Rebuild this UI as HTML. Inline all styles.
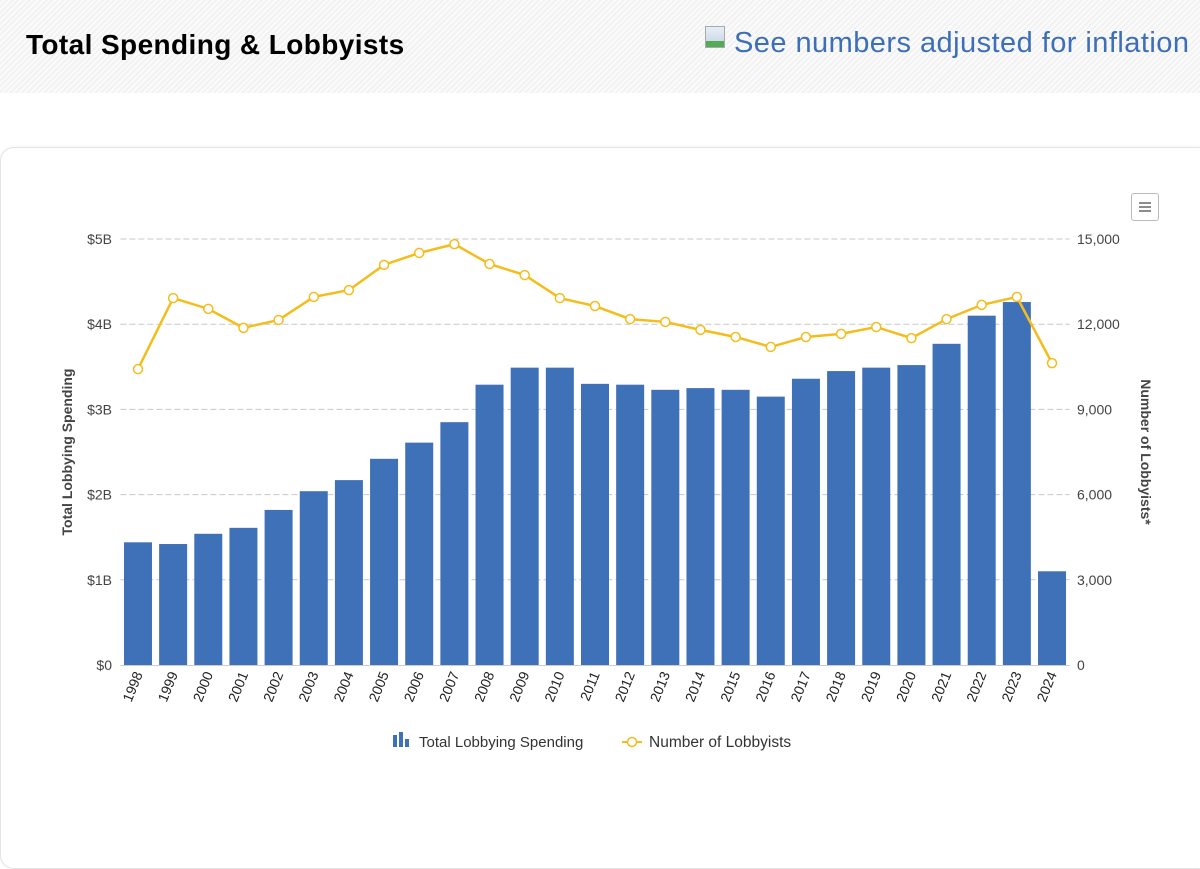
<!DOCTYPE html>
<html><head><meta charset="utf-8">
<style>
body{margin:0;width:1200px;height:854px;overflow:hidden;background:#fff;font-family:"Liberation Sans",sans-serif;position:relative}
#hdr{position:absolute;left:0;top:0;width:1200px;height:93px;background:repeating-linear-gradient(135deg,#f2f2f2 0 2px,#fbfbfb 2px 4px)}
#title{position:absolute;left:26px;top:29px;font-size:28px;font-weight:bold;color:#000;letter-spacing:0.4px}
#infl{position:absolute;left:734px;top:27px;font-size:29px;color:#3d6fb8;letter-spacing:0.45px}
#imgicon{position:absolute;left:705px;top:26px;width:18px;height:20px;border:1px solid #aaa;background:linear-gradient(#e8eef6,#cfdbe9 70%,#5a5 70%)}
#card{position:absolute;left:0;top:147px;width:1210px;height:720px;border:1px solid #e4e4e4;border-radius:14px;background:#fff;box-shadow:0 0 4px rgba(0,0,0,.06)}
#menu{position:absolute;left:1131px;top:193px;width:26px;height:26px;border:1px solid #bbb;border-radius:3px;background:#fff}
svg{position:absolute;left:0;top:0}
</style></head><body>
<div id="hdr"></div>
<div id="title">Total Spending &amp; Lobbyists</div>
<div id="imgicon"></div>
<div id="infl">See numbers adjusted for inflation</div>
<div id="card"></div>
<div id="menu"><svg width="26" height="26"><path d="M7 9h12M7 13h12M7 17h12" stroke="#666" stroke-width="1.5"/></svg></div>
<svg id="chart" width="1200" height="854"></svg>
<script>
const years=["1998","1999","2000","2001","2002","2003","2004","2005","2006","2007","2008","2009","2010","2011","2012","2013","2014","2015","2016","2017","2018","2019","2020","2021","2022","2023","2024"];
const spending=[1.44,1.42,1.54,1.61,1.82,2.04,2.17,2.42,2.61,2.85,3.29,3.49,3.49,3.30,3.29,3.23,3.25,3.23,3.15,3.36,3.45,3.49,3.52,3.77,4.10,4.26,1.10];
const lobbyists=[10420,12920,12540,11870,12150,12960,13200,14090,14510,14820,14120,13730,12920,12640,12180,12080,11800,11550,11200,11550,11660,11900,11510,12180,12680,12960,10630];
const leftTicks=["$0","$1B","$2B","$3B","$4B","$5B"];
const rightTicks=["0","3,000","6,000","9,000","12,000","15,000"];
const NS="http://www.w3.org/2000/svg";
const svg=document.getElementById('chart');
const L=120.4,R=1069.6,B=665,T=239;
const step=(R-L)/years.length;
const xC=i=>L+step*(i+0.5);
const yL=v=>B-(B-T)*v/5;
const yR=v=>B-(B-T)*v/15000;
function mk(t,a,txt){const e=document.createElementNS(NS,t);for(const k in a)e.setAttribute(k,a[k]);if(txt!=null)e.textContent=txt;svg.appendChild(e);return e;}
leftTicks.forEach((t,i)=>{
  const y=yL(i);
  if(i>0){const g=mk('line',{x1:L,x2:R,y1:y,y2:y,stroke:'#c8c8c8','stroke-dasharray':'6,3'});
  
  }
  const a=mk('text',{x:112,y:y+5,'text-anchor':'end','font-size':14,fill:'#444'},t);
  
  
  const b=mk('text',{x:1077,y:y+5,'font-size':14,fill:'#444'},rightTicks[i]);
  
  
});
const ax=mk('line',{x1:L,x2:R,y1:B+0.5,y2:B+0.5,stroke:'#ccc'});


spending.forEach((v,i)=>{
  const r=mk('rect',{x:xC(i)-14,y:yL(v),width:28,height:B-yL(v),fill:'#3f71b8'});
  
  
  const t=mk('text',{transform:`translate(${xC(i)+5},${B+9}) rotate(-68)`,'text-anchor':'end','font-size':14,fill:'#222'},years[i]);
  
  
});
const pl=mk('polyline',{points:lobbyists.map((v,i)=>xC(i)+','+yR(v)).join(' '),fill:'none',stroke:'#f4bd1b','stroke-width':2.5});


lobbyists.forEach((v,i)=>{
  const c=mk('circle',{cx:xC(i),cy:yR(v),r:4.5,fill:'#fff',stroke:'#f4bd1b','stroke-width':1.5});
  
  
});
const yt=mk('text',{transform:'translate(72,452) rotate(-90)','text-anchor':'middle','font-size':14,'font-weight':'bold',fill:'#444'},'Total Lobbying Spending');


const yt2=mk('text',{transform:'translate(1141,452) rotate(90)','text-anchor':'middle','font-size':14,'font-weight':'bold',fill:'#444'},'Number of Lobbyists*');


[[393,735,4,12],[399,732,4,15],[405,739,4,8]].forEach(a=>{const r=mk('rect',{x:a[0],y:a[1],width:a[2],height:a[3],fill:'#3f71b8'});

});
const l1=mk('text',{x:419,y:747,'font-size':15,fill:'#333'},'Total Lobbying Spending');


const ll=mk('line',{x1:622,x2:642,y1:742,y2:742,stroke:'#f4bd1b','stroke-width':2});


const lc=mk('circle',{cx:632,cy:742,r:4.5,fill:'#fff',stroke:'#f4bd1b','stroke-width':1.5});


const l2=mk('text',{x:649,y:747,'font-size':15.5,fill:'#333'},'Number of Lobbyists');


</script>
</body></html>
